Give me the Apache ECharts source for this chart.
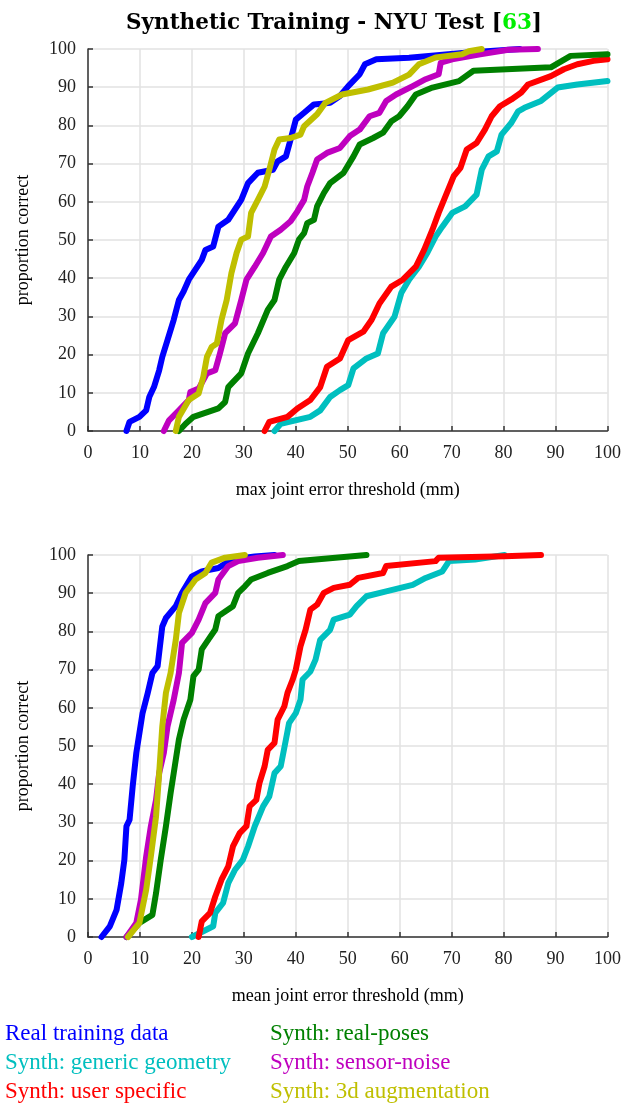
<!DOCTYPE html>
<html>
<head>
<meta charset="utf-8">
<script src="https://cdn.jsdelivr.net/npm/echarts@6/dist/echarts.min.js"></script>
<style>
  html, body { margin: 0; padding: 0; background: #fff; }
  #chart { width: 624px; height: 1105px; }
</style>
</head>
<body>
<div id="chart"></div>
<script>
// series names, in legend order
var names = ['Real training data', 'Synth: generic geometry', 'Synth: user specific',
  'Synth: real-poses', 'Synth: sensor-noise', 'Synth: 3d augmentation']
var colors = ['#0000ff', '#00bfbf', '#ff0000', '#008000', '#bf00bf', '#bfbf00']

// top plot: max joint error (mm, % correct)
var maxReal = [[7.4,0],[8.0,2.4],[9.9,3.7],[11.2,5.4],[11.8,8.9],[12.7,11.5],[13.7,15.9],[14.3,19.4],
  [15.3,23.8],[16.5,29.1],[17.5,34.3],[18.4,36.5],[19.4,39.6],[21.9,44.8],[22.6,47.4],[24.1,48.3],
  [25.1,53.5],[27.0,55.3],[29.5,60.5],[30.8,64.9],[32.7,67.6],[35.6,68.4],[36.5,70.6],[38.1,71.9],
  [39.0,76.3],[40.0,81.5],[41.6,83.3],[43.5,85.5],[46.6,85.9],[48.5,87.7],[50.1,90.3],[52.3,93.4],
  [53.3,96.0],[55.5,97.3],[61.8,97.7],[72.6,99.0],[83.1,100]]
var maxGeneric = [[35.9,0],[37.1,1.9],[42.8,3.7],[44.7,5.4],[46.6,8.9],[48.5,10.7],[50.1,12.0],[51.1,16.4],
  [53.6,19.0],[55.8,20.3],[56.8,25.6],[59.0,29.9],[60.3,36.1],[61.8,39.6],[63.7,43.0],[65.3,46.6],
  [66.9,50.9],[68.2,53.5],[70.1,57.1],[72.6,58.8],[74.8,61.9],[75.8,68.4],[77.1,71.9],[78.7,73.2],
  [79.6,77.6],[81.5,80.7],[82.8,83.7],[84.0,84.6],[87.2,86.4],[90.4,89.9],[94.2,90.7],[100,91.6]]
var maxUser = [[34.0,0],[34.9,2.4],[38.4,3.7],[40.3,5.9],[42.8,8.1],[44.7,11.5],[46.0,16.8],[48.5,19.0],
  [50.1,23.8],[53.0,26.0],[54.6,29.1],[56.1,33.4],[58.4,37.8],[60.6,39.6],[63.1,43.0],[64.7,47.4],
  [66.3,52.7],[67.5,57.1],[68.8,61.4],[70.4,66.7],[71.7,68.9],[72.9,73.7],[74.8,75.4],[76.4,78.9],
  [77.7,82.4],[79.3,85.0],[81.5,86.8],[83.4,88.6],[84.7,90.7],[89.1,92.9],[91.6,94.7],[94.2,96.0],
  [97.3,96.9],[100,97.3]]
var maxPoses = [[17.5,0],[18.8,1.9],[20.3,3.7],[25.1,5.9],[26.4,7.6],[27.0,11.5],[29.5,15.1],[30.8,20.3],
  [32.7,25.6],[34.6,31.7],[35.9,34.3],[36.8,39.6],[38.1,43.0],[39.7,46.6],[40.6,50.1],[41.6,51.8],
  [42.2,54.4],[43.5,55.3],[44.1,58.8],[45.4,62.3],[46.6,64.9],[49.2,67.6],[51.1,71.9],[52.3,75.0],
  [54.9,76.7],[56.8,78.1],[58.4,81.1],[59.9,82.4],[61.5,85.0],[63.1,88.1],[66.3,89.9],[71.4,91.6],
  [74.2,94.3],[89.1,95.2],[92.9,98.2],[100,98.6]]
var maxNoise = [[14.6,0],[15.6,2.8],[17.5,5.4],[19.4,8.1],[19.7,10.2],[21.3,11.1],[22.9,15.1],[24.5,15.9],
  [25.4,20.3],[26.4,25.6],[28.3,28.2],[29.5,34.3],[30.5,39.6],[32.1,43.0],[33.7,46.6],[35.2,50.9],
  [37.1,52.7],[39.0,54.9],[40.3,57.5],[41.6,60.5],[42.2,64.0],[43.2,67.6],[44.1,71.1],[46.0,72.8],
  [48.5,74.1],[50.4,77.2],[52.3,78.9],[54.2,82.4],[56.1,83.3],[57.4,86.4],[59.3,88.1],[62.5,90.3],
  [65.0,92.1],[67.5,93.4],[67.9,96.4],[70.1,97.3],[75.5,98.6],[80.9,99.8],[86.6,100]]
var maxAug = [[16.9,0],[17.5,3.7],[19.4,8.1],[21.3,9.8],[22.2,14.2],[22.9,19.4],[23.8,22.0],[24.8,22.9],
  [25.7,29.1],[26.7,34.3],[27.6,41.3],[28.6,46.6],[29.5,50.1],[30.8,50.9],[31.4,57.1],[32.7,60.5],
  [34.0,64.0],[34.9,68.4],[35.9,73.7],[36.8,76.3],[39.0,76.7],[40.9,77.6],[41.6,79.8],[44.1,82.9],
  [45.7,85.9],[48.9,88.1],[53.9,89.4],[58.7,91.2],[61.8,93.3],[63.7,96.0],[66.9,97.8],[72.0,98.6],
  [73.3,99.4],[75.8,100]]

// bottom plot: mean joint error (mm, % correct)
var meanReal = [[2.6,0],[4.2,2.8],[5.5,7.1],[6.4,14.1],[7.0,20.2],[7.4,29.0],[8.0,30.7],[8.6,39.4],
  [9.3,48.2],[9.9,53.4],[10.5,58.6],[11.5,63.9],[12.4,69.1],[13.4,70.9],[14.3,81.3],[15.0,83.5],
  [16.9,86.6],[18.1,90.1],[20.0,94.4],[21.9,95.7],[25.1,96.6],[27.6,98.8],[32.1,99.6],[35.9,100]]
var meanGeneric = [[20.0,0],[24.1,2.8],[24.5,6.3],[26.0,8.9],[27.0,14.1],[28.3,17.6],[29.8,20.2],
  [30.8,23.7],[32.1,29.0],[33.7,34.2],[34.9,36.8],[35.9,42.9],[37.1,44.7],[38.1,51.7],[38.7,56.0],
  [40.0,58.6],[40.9,62.1],[41.3,67.4],[42.8,69.5],[43.8,72.6],[44.7,77.8],[46.6,80.4],[47.3,83.1],
  [50.4,84.4],[51.7,86.6],[53.6,89.2],[57.4,90.5],[62.5,92.2],[65.0,94.0],[68.2,95.7],[69.5,98.4],
  [74.5,98.8],[80.2,100]]
var meanUser = [[21.3,0],[21.9,4.1],[23.5,6.3],[24.5,10.6],[25.7,15.0],[27.0,18.5],[27.9,23.7],
  [29.2,27.2],[30.5,29.0],[31.1,34.2],[32.4,35.9],[33.0,40.3],[34.0,44.7],[34.6,49.0],[35.9,50.8],
  [36.5,56.9],[37.8,60.4],[38.4,63.9],[39.4,67.4],[40.0,70.0],[40.9,76.1],[41.9,80.5],[42.8,85.7],
  [44.1,87.0],[45.4,90.1],[47.3,91.4],[50.4,92.2],[52.0,94.0],[56.8,95.3],[57.4,97.1],[66.9,98.4],
  [67.5,99.3],[80.2,99.7],[87.2,100]]
var meanPoses = [[7.4,0],[9.9,3.7],[12.4,5.8],[13.1,11.5],[14.0,20.2],[15.0,29.0],[15.9,37.7],
  [16.5,42.9],[17.5,51.7],[18.4,56.9],[19.7,62.1],[20.3,68.3],[21.3,70.0],[21.9,75.3],[23.2,77.9],
  [24.5,80.5],[25.1,84.0],[27.9,86.6],[28.9,90.1],[30.2,91.8],[31.4,93.6],[34.6,95.3],[38.4,97.1],
  [40.6,98.4],[53.6,100]]
var meanNoise = [[7.4,0],[9.3,3.7],[10.2,9.8],[11.2,21.1],[12.1,29.0],[13.1,35.9],[13.7,42.9],
  [14.6,48.2],[15.3,55.1],[16.5,62.1],[17.5,69.1],[18.1,77.0],[20.0,79.6],[21.3,83.1],[22.6,87.4],
  [24.5,90.1],[25.1,93.6],[27.0,97.1],[28.9,98.4],[32.7,99.3],[37.5,100]]
var meanAug = [[7.7,0],[9.9,3.7],[11.2,12.4],[12.1,21.1],[13.1,31.6],[13.7,42.9],[14.3,55.1],
  [15.0,63.9],[15.9,69.1],[16.9,77.8],[17.5,84.8],[18.8,90.1],[20.7,93.6],[22.6,95.3],[23.8,98.0],
  [26.4,99.3],[30.2,100]]

var maxData = [maxReal, maxGeneric, maxUser, maxPoses, maxNoise, maxAug]
var meanData = [meanReal, meanGeneric, meanUser, meanPoses, meanNoise, meanAug]

var serif = 'Liberation Serif'

function makeX(idx, name) {
  return {
    type: 'value', gridIndex: idx, min: 0, max: 100, interval: 10,
    name: name, nameLocation: 'middle', nameGap: 50,
    nameTextStyle: { fontFamily: serif, fontSize: 18, color: '#000' },
    axisLine: { show: true, lineStyle: { color: '#333', width: 1.5 } },
    axisTick: { show: true, inside: true, length: 5, lineStyle: { color: '#333', width: 1.5 } },
    axisLabel: { fontFamily: serif, fontSize: 18, color: '#222', margin: 13 },
    splitLine: { show: true, lineStyle: { color: '#e2e2e2', width: 1.5 } }
  }
}
function makeY(idx) {
  return {
    type: 'value', gridIndex: idx, min: 0, max: 100, interval: 10,
    name: 'proportion correct', nameLocation: 'middle', nameGap: 56,
    nameTextStyle: { fontFamily: serif, fontSize: 18, color: '#000' },
    axisLine: { show: true, lineStyle: { color: '#333', width: 1.5 } },
    axisTick: { show: true, inside: true, length: 5, lineStyle: { color: '#333', width: 1.5 } },
    axisLabel: { fontFamily: serif, fontSize: 18, color: '#222', margin: 12 },
    splitLine: { show: true, lineStyle: { color: '#e2e2e2', width: 1.5 } }
  }
}

var series = []
;[maxData, meanData].forEach(function(set, g) {
  set.forEach(function(d, i) {
    series.push({
      name: names[i], type: 'line', xAxisIndex: g, yAxisIndex: g,
      data: d, showSymbol: false, clip: false, animation: false,
      lineStyle: { color: colors[i], width: 6, join: 'round', cap: 'round' },
      itemStyle: { color: colors[i] }
    })
  })
})

function legendItems(from, to) {
  var out = []
  for (var i = from; i < to; i++) {
    out.push({ name: names[i], textStyle: { color: colors[i] } })
  }
  return out
}
var legendBase = {
  orient: 'vertical', top: 1022, height: 83, padding: 0, icon: 'none',
  itemWidth: 0, itemHeight: 22, itemGap: 6,
  textStyle: { fontFamily: serif, fontSize: 23, lineHeight: 22 }
}

var option = {
  backgroundColor: '#fff',
  title: {
    text: '{a|Synthetic Training - NYU Test [}{g|63}{a|]}',
    left: 329, top: 7, textAlign: 'center',
    textStyle: {
      rich: {
        a: { fontFamily: 'DejaVu Serif', fontSize: 21.5, fontWeight: 'bold', color: '#000' },
        g: { fontFamily: 'DejaVu Serif', fontSize: 21.5, fontWeight: 'bold', color: '#00ee00' }
      }
    }
  },
  grid: [
    { left: 88, right: 10, top: 49, height: 382 },
    { left: 88, right: 10, top: 555, height: 382 }
  ],
  xAxis: [makeX(0, 'max joint error threshold (mm)'), makeX(1, 'mean joint error threshold (mm)')],
  yAxis: [makeY(0), makeY(1)],
  legend: [
    Object.assign({ left: 0, data: legendItems(0, 3) }, legendBase),
    Object.assign({ left: 265, data: legendItems(3, 6) }, legendBase)
  ],
  series: series
}

var myChart = echarts.init(document.getElementById('chart'))
myChart.setOption(option)
</script>
</body>
</html>
